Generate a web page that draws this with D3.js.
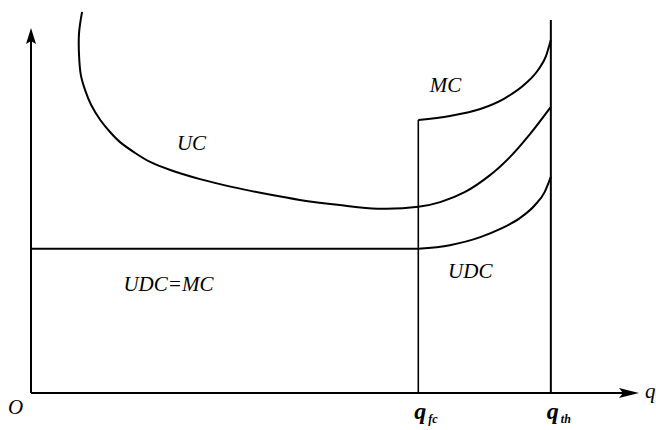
<!DOCTYPE html>
<html>
<head>
<meta charset="utf-8">
<script src="https://cdn.jsdelivr.net/npm/d3@7"></script>
<style>
  body { margin: 0; background: #fff; }
  svg text { font-family: "Liberation Serif", "DejaVu Serif", serif; font-style: italic; fill: #000; }
</style>
</head>
<body>
<div id="chart"></div>
<script>
// quantities on the q axis
const qFc = 63.7;
const qTh = 85.5;
const qthTop = 102.2;   // q_th line goes above the y arrow

// unit cost UC (q, cost)
const ucQ    = [8.4, 7.9, 7.9, 8.2, 8.9, 9.9, 11.4, 13.0, 14.6, 17.1, 19.6, 22.9, 27.8, 33.2, 38.8, 44.2, 50.8, 57.0, 63.7, 67.3, 71.4, 75.5, 78.8, 82.1, 85.5];
const ucCost = [104.4, 98.6, 92.6, 87.1, 83.0, 78.9, 74.8, 71.5, 68.8, 65.8, 63.3, 61.1, 58.6, 56.4, 54.5, 52.9, 51.5, 50.5, 51.0, 52.3, 55.1, 59.7, 64.7, 71.0, 78.4];

// marginal cost MC after q_fc
const mcQ    = [63.7, 68.9, 73.9, 78.0, 81.3, 83.4, 84.7, 85.5];
const mcCost = [74.8, 75.9, 77.8, 80.8, 84.7, 88.5, 92.3, 96.7];

// unit direct cost UDC (flat up to q_fc, then rising)
const udcQ    = [0, 63.7, 68.9, 73.9, 77.1, 80.4, 82.9, 84.5, 85.5];
const udcCost = [39.5, 39.5, 40.5, 42.7, 44.9, 47.9, 51.5, 55.1, 59.2];

const width = 656, height = 430;

const svg = d3.select('#chart').append('svg')
    .attr('width', width)
    .attr('height', height);

const x = d3.scaleLinear().domain([0, 100]).range([31, 639]);
const y = d3.scaleLinear().domain([0, 100]).range([393, 28]);

const smooth = d3.line()
    .x(d => x(d[0]))
    .y(d => y(d[1]))
    .curve(d3.curveCatmullRom.alpha(0.5));
const mono = d3.line()
    .x(d => x(d[0]))
    .y(d => y(d[1]))
    .curve(d3.curveMonotoneX);
const straight = d3.line()
    .x(d => x(d[0]))
    .y(d => y(d[1]));

const zip = (a, b) => a.map((v, i) => [v, b[i]]);

function stroke(sel, w) {
    return sel.attr('fill', 'none').attr('stroke', '#000').attr('stroke-width', w);
}

// axes
stroke(svg.append('line')
    .attr('x1', x(0)).attr('y1', y(0))
    .attr('x2', x(100) - 10).attr('y2', y(0)), 2);
stroke(svg.append('line')
    .attr('x1', x(0)).attr('y1', y(0))
    .attr('x2', x(0)).attr('y2', y(100) + 10), 2);

// arrow heads
svg.append('path')
    .attr('d', `M${x(100)},${y(0)} L${x(100) - 20},${y(0) - 5} L${x(100) - 16},${y(0)} L${x(100) - 20},${y(0) + 5} Z`)
    .attr('fill', '#000');
svg.append('path')
    .attr('d', `M${x(0)},${y(100)} L${x(0) - 5},${y(100) + 16} L${x(0)},${y(100) + 13} L${x(0) + 5},${y(100) + 16} Z`)
    .attr('fill', '#000');

// vertical lines at q_fc and q_th
stroke(svg.append('line')
    .attr('x1', x(qFc)).attr('y1', y(0))
    .attr('x2', x(qFc)).attr('y2', y(mcCost[0])), 1.6);
stroke(svg.append('line')
    .attr('x1', x(qTh)).attr('y1', y(0))
    .attr('x2', x(qTh)).attr('y2', y(qthTop)), 2);

// curves
stroke(svg.append('path').attr('d', smooth(zip(ucQ, ucCost))), 2);
stroke(svg.append('path').attr('d', mono(zip(mcQ, mcCost))), 2);
const udc = zip(udcQ, udcCost);
stroke(svg.append('path').attr('d', straight(udc.slice(0, 2))), 2);
stroke(svg.append('path').attr('d', mono(udc.slice(1))), 2);

// curve labels
const labels = [
    { text: 'UC', q: 24.0, c: 66.6 },
    { text: 'MC', q: 65.6, c: 82.5 },
    { text: 'UDC', q: 68.6, c: 31.5 },
    { text: 'UDC=MC', q: 15.2, c: 27.9 }
];
svg.selectAll('.lbl').data(labels).enter().append('text')
    .attr('class', 'lbl')
    .attr('x', d => x(d.q))
    .attr('y', d => y(d.c))
    .style('font-size', '21px')
    .text(d => d.text);

// axis labels
svg.append('text').attr('x', 8).attr('y', 414).style('font-size', '21px').text('O');
svg.append('text').attr('x', x(100) + 6).attr('y', y(0) + 5).style('font-size', '21px').text('q');

const qTicks = [{ q: qFc, sub: 'fc' }, { q: qTh, sub: 'th' }];
qTicks.forEach(t => {
    const tx = svg.append('text')
        .attr('x', x(t.q) - 4)
        .attr('y', 419)
        .style('font-size', '24px')
        .style('font-weight', 'bold');
    tx.append('tspan').text('q');
    tx.append('tspan')
        .attr('dx', 2).attr('dy', 4)
        .style('font-size', '12px')
        .text(t.sub);
});
</script>
</body>
</html>
